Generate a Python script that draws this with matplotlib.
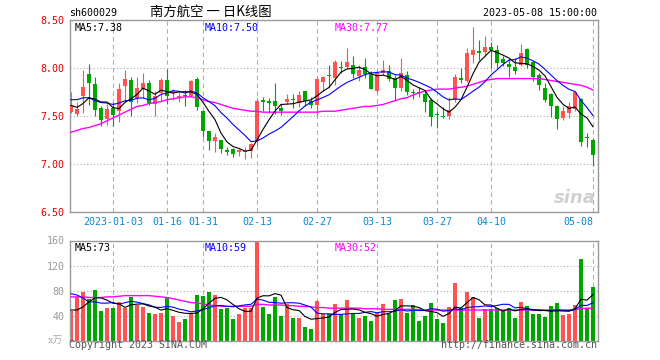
import numpy as np
import pandas as pd
import matplotlib
matplotlib.use('Agg')
import matplotlib.pyplot as plt
from matplotlib.transforms import blended_transform_factory

plt.rcParams['font.family'] = ['DejaVu Sans Mono', 'Noto Sans CJK SC']

# daily candles, 2022-12-22 .. 2023-05-08
opens = [7.54, 7.52, 7.71, 7.94, 7.83, 7.58, 7.47, 7.58, 7.55, 7.81,
         7.87, 7.69, 7.78, 7.84, 7.62, 7.74, 7.88, 7.74, 7.69, 7.72,
         7.71, 7.89, 7.55, 7.34, 7.24, 7.25, 7.14, 7.16, 7.13, 7.12,
         7.14, 7.24, 7.66, 7.65, 7.66, 7.58, 7.65, 7.68, 7.64, 7.76,
         7.66, 7.61, 7.85, 7.93, 7.90, 8.01, 8.01, 8.03, 7.92, 8.01,
         7.94, 7.76, 7.95, 7.97, 7.90, 7.79, 7.93, 7.75, 7.75, 7.73,
         7.67, 7.52, 7.50, 7.50, 7.67, 7.89, 7.86, 8.14, 8.17, 8.17,
         8.22, 8.19, 8.09, 8.04, 8.01, 8.03, 8.20, 8.06, 7.93, 7.79,
         7.73, 7.60, 7.48, 7.53, 7.57, 7.68, 7.28, 7.25]
highs = [7.75, 7.65, 7.98, 8.04, 7.91, 7.60, 7.62, 7.65, 7.84, 7.98,
         7.91, 7.91, 7.95, 7.88, 7.76, 7.90, 7.99, 7.78, 7.76, 7.77,
         7.88, 7.91, 7.55, 7.34, 7.32, 7.25, 7.18, 7.17, 7.16, 7.18,
         7.22, 7.69, 7.70, 7.69, 7.84, 7.62, 7.73, 7.73, 7.76, 7.76,
         7.70, 7.91, 7.92, 8.03, 8.08, 8.07, 8.21, 8.12, 8.03, 8.10,
         7.97, 7.97, 8.08, 8.03, 7.93, 8.10, 7.97, 7.78, 7.80, 7.76,
         7.69, 7.55, 7.59, 7.70, 7.94, 8.00, 8.21, 8.43, 8.29, 8.33,
         8.27, 8.24, 8.12, 8.10, 8.10, 8.25, 8.21, 8.07, 7.95, 7.84,
         7.74, 7.61, 7.60, 7.65, 7.75, 7.69, 7.32, 7.27]
lows = [7.53, 7.50, 7.53, 7.61, 7.50, 7.40, 7.41, 7.40, 7.44, 7.65,
        7.50, 7.64, 7.69, 7.61, 7.50, 7.66, 7.63, 7.67, 7.65, 7.60,
        7.70, 7.56, 7.28, 7.15, 7.12, 7.11, 7.09, 7.07, 7.08, 7.05,
        7.06, 7.19, 7.55, 7.53, 7.52, 7.51, 7.62, 7.58, 7.59, 7.60,
        7.58, 7.50, 7.76, 7.79, 7.82, 7.95, 8.00, 7.90, 7.86, 7.90,
        7.78, 7.74, 7.93, 7.86, 7.67, 7.76, 7.72, 7.68, 7.70, 7.54,
        7.40, 7.38, 7.48, 7.47, 7.65, 7.84, 7.85, 8.05, 8.08, 8.12,
        8.00, 8.00, 8.02, 7.91, 7.94, 8.02, 8.00, 7.86, 7.77, 7.65,
        7.49, 7.36, 7.46, 7.48, 7.55, 7.19, 7.18, 6.98]
closes = [7.61, 7.57, 7.80, 7.84, 7.56, 7.46, 7.57, 7.51, 7.78, 7.89,
          7.65, 7.79, 7.84, 7.64, 7.71, 7.87, 7.71, 7.76, 7.71, 7.71,
          7.86, 7.59, 7.34, 7.24, 7.28, 7.16, 7.13, 7.10, 7.14, 7.14,
          7.21, 7.66, 7.65, 7.64, 7.60, 7.55, 7.68, 7.67, 7.72, 7.66,
          7.61, 7.89, 7.91, 7.92, 8.06, 8.00, 8.06, 7.94, 7.98, 7.94,
          7.78, 7.95, 7.98, 7.89, 7.79, 7.95, 7.75, 7.74, 7.74, 7.65,
          7.49, 7.51, 7.49, 7.56, 7.91, 7.88, 8.16, 8.19, 8.16, 8.22,
          8.19, 8.05, 8.05, 8.01, 7.97, 8.16, 8.03, 7.91, 7.82, 7.67,
          7.60, 7.47, 7.55, 7.60, 7.75, 7.23, 7.27, 7.09]
volumes = [48, 70, 77, 66, 81, 48, 52, 52, 62, 52, 69, 57, 54, 45, 43, 45,
           69, 40, 30, 35, 43, 73, 72, 77, 73, 51, 53, 35, 43, 52, 52, 158,
           54, 42, 70, 40, 59, 36, 36, 22, 19, 63, 42, 43, 59, 42, 65, 44,
           36, 40, 31, 44, 59, 43, 65, 67, 44, 57, 32, 40, 60, 35, 28, 54,
           92, 52, 78, 69, 36, 51, 51, 52, 47, 52, 36, 62, 56, 43, 43, 38,
           55, 60, 41, 42, 57, 131, 53, 86]

# moving averages where the window reaches back before the first candle
ma5_head = [7.61, 7.59, 7.63, 7.69]
ma10_head = [7.67, 7.67, 7.69, 7.69, 7.66, 7.64, 7.635, 7.62, 7.635]
ma30 = [7.33, 7.35, 7.37, 7.38, 7.40, 7.42, 7.45, 7.48, 7.51, 7.54,
        7.57, 7.60, 7.61, 7.63, 7.64, 7.65, 7.67, 7.68, 7.69, 7.70,
        7.70, 7.69, 7.67, 7.65, 7.64, 7.62, 7.60, 7.58, 7.57, 7.56,
        7.55, 7.55, 7.54, 7.54, 7.54, 7.54, 7.54, 7.54, 7.54, 7.54,
        7.54, 7.54, 7.55, 7.55, 7.55, 7.56, 7.57, 7.58, 7.59, 7.60,
        7.60, 7.61, 7.62, 7.64, 7.66, 7.68, 7.69, 7.72, 7.74, 7.76,
        7.77, 7.78, 7.78, 7.78, 7.79, 7.80, 7.81, 7.83, 7.85, 7.87,
        7.88, 7.89, 7.89, 7.89, 7.89, 7.89, 7.89, 7.89, 7.89, 7.88,
        7.87, 7.86, 7.85, 7.84, 7.83, 7.82, 7.80, 7.77]
vma5_head = [49, 49, 54, 62]
vma10_head = [75, 73, 68, 62, 62, 60, 60, 61, 58]
vma30 = [70, 70, 70, 69, 69, 69, 70, 70, 71, 72, 72, 72, 72, 72, 71, 70,
         69, 67, 65, 63, 61, 60, 59, 57, 56, 55, 55, 55, 55, 55, 55, 58,
         58, 57, 57, 57, 56, 56, 55, 55, 54, 53, 53, 52, 52, 52, 52, 52,
         52, 51, 51, 51, 50, 50, 50, 50, 50, 50, 50, 49, 49, 49, 49, 49,
         49, 49, 49, 49, 49, 49, 49, 49, 49, 49, 49, 49, 49, 49, 49, 49,
         49, 49, 49, 49, 50, 51, 52, 52]

tick_idx = [7, 16, 22, 31, 41, 51, 61, 70, 87]
tick_labels = ['2023-01-03', '01-16', '01-31', '02-13', '02-27',
               '03-13', '03-27', '04-10', '05-08']
price_ticks = [6.5, 7.0, 7.5, 8.0, 8.5]
vol_ticks = [40, 80, 120, 160]

RED = '#ff5353'
GREEN = '#00a600'
GRID = '#b0b0b0'

o = np.array(opens); h = np.array(highs); l = np.array(lows); c = np.array(closes)
v = np.array(volumes)
x = np.arange(len(c))
cols = np.where(c >= o, RED, GREEN)

ma5 = pd.Series(c).rolling(5).mean().to_numpy()
ma5[:4] = ma5_head
ma10 = pd.Series(c).rolling(10).mean().to_numpy()
ma10[:9] = ma10_head
vma5 = pd.Series(v, dtype=float).rolling(5).mean().to_numpy()
vma5[:4] = vma5_head
vma10 = pd.Series(v, dtype=float).rolling(10).mean().to_numpy()
vma10[:9] = vma10_head

W, H = 660, 360
fig = plt.figure(figsize=(W / 100, H / 100), dpi=100)
fig.patch.set_facecolor('white')

def box(left, top, right, bottom):
    return [left / W, 1 - bottom / H, (right - left) / W, (bottom - top) / H]

ax = fig.add_axes(box(70, 20, 598, 212))
axv = fig.add_axes(box(70, 240.5, 598, 340.7))
xlim = (-1 / 6, len(c) - 1 + 5 / 6)

for a in (ax, axv):
    a.set_xlim(*xlim)
    for s in a.spines.values():
        s.set_color('#999999')
        s.set_linewidth(1.0)
    a.set_xticks([])
    a.tick_params(axis='y', length=0, pad=4, labelsize=7.2)
    for t in tick_idx:
        a.axvline(t, color=GRID, lw=0.8, ls=(0, (4, 3)), zorder=0)

# price panel
ax.set_ylim(6.5, 8.5)
ax.set_yticks(price_ticks)
ax.set_yticklabels([f'{p:.2f}' for p in price_ticks], color='#e00000')
for p in price_ticks[1:-1]:
    ax.axhline(p, color=GRID, lw=0.8, ls=(0, (1, 2)), zorder=0)

ax.vlines(x, l, h, colors=cols, lw=0.8, zorder=2)
ax.bar(x, np.maximum(np.abs(c - o), 0.012), bottom=np.minimum(o, c),
       width=0.75, color=cols, linewidth=0, zorder=3)
ax.plot(x, ma30, color='#ff00ff', lw=1.0, zorder=4)
ax.plot(x, ma10, color='#0000ff', lw=0.8, zorder=4)
ax.plot(x, ma5, color='black', lw=0.8, zorder=5)

ax.text(0.008, 0.985, 'MA5:7.38', transform=ax.transAxes, fontsize=7.2,
        color='black', va='top')
ax.text(135 / 528, 0.985, 'MA10:7.50', transform=ax.transAxes, fontsize=7.2,
        color='#0000ff', va='top')
ax.text(265 / 528, 0.985, 'MA30:7.77', transform=ax.transAxes, fontsize=7.2,
        color='#ff00ff', va='top')
ax.text(0.995, 0.025, 'sina', transform=ax.transAxes, fontsize=13,
        color='#d0d0d0', ha='right', va='bottom', style='italic',
        weight='bold', family='DejaVu Sans')

trans = blended_transform_factory(ax.transData, ax.transAxes)
for t, lab in zip(tick_idx, tick_labels):
    ha = 'right' if t == tick_idx[-1] else 'center'
    ax.text(t, -0.052, lab, transform=trans, fontsize=7.2, color='#0a88d0',
            ha=ha, va='center')

# volume panel
axv.set_ylim(0, 160)
axv.set_yticks(vol_ticks)
axv.set_yticklabels([str(t) for t in vol_ticks], color='#999999')
for t in vol_ticks[:-1]:
    axv.axhline(t, color=GRID, lw=0.8, ls=(0, (1, 2)), zorder=0)
axv.bar(x, v, width=0.82, color=cols, linewidth=0, zorder=2)
axv.plot(x, vma30, color='#ff00ff', lw=1.0, zorder=3)
axv.plot(x, vma10, color='#0000ff', lw=0.8, zorder=4)
axv.plot(x, vma5, color='black', lw=0.8, zorder=5)

axv.text(0.008, 0.98, 'MA5:73', transform=axv.transAxes, fontsize=7.2,
         color='black', va='top')
axv.text(135 / 528, 0.98, 'MA10:59', transform=axv.transAxes, fontsize=7.2,
         color='#0000ff', va='top')
axv.text(265 / 528, 0.98, 'MA30:52', transform=axv.transAxes, fontsize=7.2,
         color='#ff00ff', va='top')

# header and footer
fig.text(69 / W, 1 - 13 / H, 'sh600029', fontsize=7.2, va='center')
fig.text(150 / W, 1 - 12 / H, '南方航空 一 日K线图', fontsize=9.6,
         va='center', family=['Noto Sans CJK SC', 'DejaVu Sans'])
fig.text(597 / W, 1 - 13 / H, '2023-05-08 15:00:00', fontsize=7.2,
         va='center', ha='right')
fig.text(63 / W, 1 - 340 / H, 'x万', fontsize=7, color='#aaaaaa',
         va='center', ha='right', family=['DejaVu Serif', 'Noto Sans CJK SC'])
fig.text(69 / W, 1 - 345.5 / H, 'Copyright 2023 SINA.COM', fontsize=7.2,
         color='#555555', va='center')
fig.text(597 / W, 1 - 345.5 / H, 'http://finance.sina.com.cn', fontsize=7.2,
         color='#555555', va='center', ha='right')

fig.savefig('out.png', dpi=100, facecolor='white')
